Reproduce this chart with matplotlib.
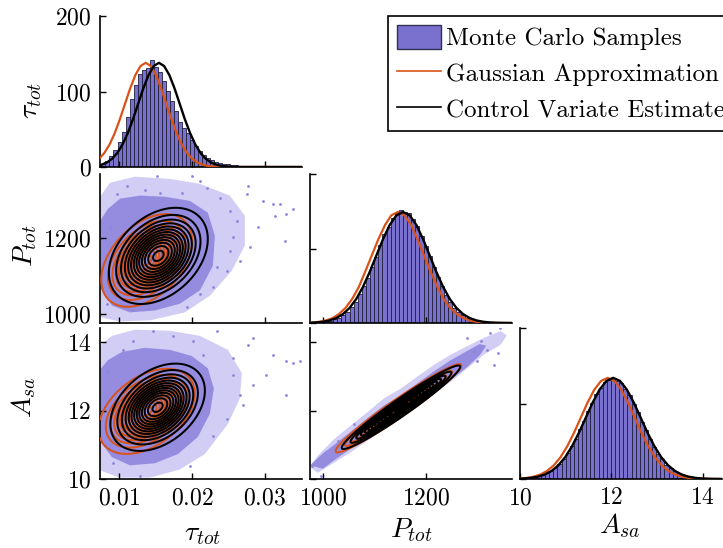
import numpy as np
import matplotlib
matplotlib.use('Agg')
import matplotlib.pyplot as plt
from matplotlib.patches import Patch
from matplotlib.lines import Line2D

plt.rcParams['mathtext.fontset'] = 'cm'
plt.rcParams['font.family'] = ['cmr10', 'DejaVu Serif']
plt.rcParams['axes.unicode_minus'] = False
plt.rcParams['axes.formatter.use_mathtext'] = True

# ---------------- data ----------------
tau_lim = (0.0074, 0.0351)
P_lim = (975, 1368)
A_lim = (10.0, 14.42)
tau_ticks = [0.01, 0.02, 0.03]
P_ticks = [1000, 1200]
A_ticks = [10, 12, 14]
tau_tick_labels = ['0.01', '0.02', '0.03']
P_tick_labels = ['1000', '1200']
A_tick_labels = ['10', '12', '14']
tau_hist_yticks = [0, 100, 200]

# histograms: bin start, bin width, heights
tau_bin_start, tau_bin_width = 0.0076, 0.00055
tau_hist = [4, 8, 14, 22, 33, 47, 66, 90, 108, 123, 128, 131, 142, 133, 126, 114, 101, 87,
            74, 59, 52, 45, 36, 28, 21, 16, 12, 9, 7, 5.5, 4.5, 3.5, 2.8, 2.2, 1.8, 1.5, 1.2,
            1.0, 0.8, 0.7, 0.6, 0.5, 0.4, 0.35, 0.3, 0.25, 0.2, 0.2, 0.15, 0.1]
P_bin_start, P_bin_width = 980, 8
P_hist = [0.2, 0.4, 0.7, 1.1, 1.7, 2.6, 3.9, 5.8, 8.0, 11.5, 15.0, 20.5, 26.5, 32.0, 40.0,
          47.0, 55.5, 63.0, 68.5, 74.5, 78.0, 80.5, 79.0, 78.0, 74.0, 69.0, 62.0, 55.0, 47.5,
          40.0, 32.5, 26.0, 20.0, 15.0, 11.0, 8.0, 5.5, 3.8, 2.5, 1.6, 1.0, 0.6, 0.35, 0.2, 0.1]
P_hist_ylim = 106
A_bin_start, A_bin_width = 10.1, 0.09
A_hist = [0.005, 0.008, 0.012, 0.018, 0.026, 0.038, 0.054, 0.075, 0.100, 0.135, 0.172, 0.220,
          0.268, 0.328, 0.385, 0.448, 0.503, 0.560, 0.600, 0.640, 0.655, 0.668, 0.652, 0.638,
          0.596, 0.556, 0.497, 0.444, 0.378, 0.323, 0.262, 0.215, 0.166, 0.131, 0.096, 0.073,
          0.051, 0.037, 0.025, 0.017, 0.011, 0.007, 0.004]
A_hist_ylim = 1.0

# 1-D curves
tau_gauss_x = [0.00234, 0.00305, 0.00376, 0.00446, 0.00517, 0.00588, 0.00659, 0.00729, 0.00800,
               0.00871, 0.00942, 0.01012, 0.01083, 0.01154, 0.01225, 0.01295, 0.01366, 0.01437,
               0.01508, 0.01578, 0.01649, 0.01720, 0.01791, 0.01861, 0.01932, 0.02003, 0.02074,
               0.02144, 0.02215, 0.02286, 0.02357, 0.02427, 0.02498, 0.0360]
tau_cv_x = [0.00550, 0.00622, 0.00693, 0.00764, 0.00836, 0.00907, 0.00978, 0.01049, 0.01121,
            0.01192, 0.01263, 0.01334, 0.01406, 0.01477, 0.01548, 0.01619, 0.01691, 0.01762,
            0.01833, 0.01904, 0.01976, 0.02047, 0.02118, 0.02189, 0.02261, 0.02332, 0.02403,
            0.02474, 0.02546, 0.02617, 0.02688, 0.0360]
tau_gauss_y = [0.04, 0.12, 0.30, 0.70, 1.53, 3.15, 6.06, 10.98, 18.67, 29.85, 44.81, 63.18,
               83.70, 104.16, 121.79, 133.72, 138, 133.72, 121.79, 104.16, 83.70, 63.18, 44.81,
               29.85, 18.67, 10.98, 6.06, 3.15, 1.53, 0.70, 0.30, 0.12, 0.04, 0]
tau_cv_y = [0.30, 0.70, 1.53, 3.15, 6.06, 10.98, 18.67, 29.85, 44.81, 63.18, 83.70, 104.16,
            121.79, 133.72, 138, 133.72, 121.79, 104.16, 83.70, 63.18, 44.81, 29.85, 18.67,
            10.98, 6.06, 3.15, 1.53, 0.70, 0.30, 0.12, 0.04, 0]

P_gauss_x = [942, 955, 968, 980, 993, 1006, 1019, 1031, 1044, 1057, 1070, 1082, 1095, 1108,
             1121, 1133, 1146, 1159, 1172, 1184, 1197, 1210, 1223, 1235, 1248, 1261, 1274,
             1286, 1299, 1312, 1325, 1337, 1350, 1370]
P_cv_x = [948, 961, 974, 987, 1000, 1013, 1026, 1039, 1052, 1065, 1078, 1091, 1104, 1117, 1130,
          1143, 1156, 1169, 1182, 1195, 1208, 1221, 1234, 1247, 1260, 1273, 1286, 1299, 1312,
          1325, 1338, 1351, 1364, 1370]
P_curve_y = [0.02, 0.07, 0.17, 0.40, 0.88, 1.80, 3.47, 6.29, 10.69, 17.09, 25.65, 36.17, 47.91,
             59.63, 69.72, 76.55, 79.0, 76.55, 69.72, 59.63, 47.91, 36.17, 25.65, 17.09, 10.69,
             6.29, 3.47, 1.80, 0.88, 0.40, 0.17, 0.07, 0.02, 0]

A_gauss_x = [9.560, 9.708, 9.855, 10.003, 10.150, 10.298, 10.445, 10.593, 10.740, 10.888,
             11.035, 11.183, 11.330, 11.478, 11.625, 11.773, 11.920, 12.068, 12.215, 12.363,
             12.510, 12.658, 12.805, 12.953, 13.100, 13.248, 13.395, 13.543, 13.690, 13.838,
             13.985, 14.133, 14.280, 14.50]
A_cv_x = [9.64, 9.79, 9.94, 10.09, 10.24, 10.39, 10.54, 10.69, 10.84, 10.99, 11.14, 11.29,
          11.44, 11.59, 11.74, 11.89, 12.04, 12.19, 12.34, 12.49, 12.64, 12.79, 12.94, 13.09,
          13.24, 13.39, 13.54, 13.69, 13.84, 13.99, 14.14, 14.29, 14.44, 14.50]
A_curve_y = [0.0002, 0.0006, 0.0015, 0.0034, 0.0074, 0.0153, 0.0294, 0.0533, 0.0907, 0.1449,
             0.2175, 0.3067, 0.4064, 0.5057, 0.5913, 0.6492, 0.67, 0.6492, 0.5913, 0.5057,
             0.4064, 0.3067, 0.2175, 0.1449, 0.0907, 0.0533, 0.0294, 0.0153, 0.0074, 0.0034,
             0.0015, 0.0006, 0.0002, 0]

# 2-D Gaussian contour parameters: mean_x, mean_y, sd_x, sd_y, rho
tauP_cv = (0.0154, 1152, 0.00294, 55, 0.35)
tauP_gauss = (0.0138, 1140, 0.0027, 53, 0.42)
tauA_cv = (0.0153, 12.10, 0.00281, 0.554, 0.38)
tauA_gauss = (0.0138, 11.98, 0.00285, 0.54, 0.42)
PA_cv = (1152, 12.10, 50, 0.53, 0.97)
PA_gauss = (1147, 12.07, 53, 0.56, 0.97)
contour_levels = [0.07, 0.145, 0.22, 0.295, 0.37, 0.445, 0.52, 0.595, 0.67, 0.745, 0.82, 0.895, 0.97]

# Monte Carlo sample cloud outlines (dense core, sparse halo) and outlying samples
tauP_dense_tau = [0.0070, 0.00849, 0.01014, 0.01288, 0.01630, 0.01973, 0.02219, 0.02315, 0.02288,
                  0.02110, 0.01836, 0.01493, 0.01151, 0.00904, 0.0072, 0.0070]
tauP_dense_P = [1232, 1276, 1303, 1311, 1308, 1297, 1266, 1205, 1126, 1061, 1026, 1008, 1003,
                1021, 1074, 1153]
tauP_halo_tau = [0.0070, 0.00877, 0.01219, 0.01699, 0.02110, 0.02521, 0.02726, 0.02726, 0.02548,
                 0.02247, 0.01904, 0.01425, 0.01014, 0.0070]
tauP_halo_P = [1297, 1345, 1361, 1355, 1342, 1311, 1258, 1179, 1113, 1047, 1003, 982, 979, 992]
tauP_out_tau = [0.01516, 0.01996, 0.01356, 0.01562, 0.01859, 0.02771, 0.02749, 0.03114, 0.03206,
                0.03297, 0.03137, 0.03388, 0.03274, 0.02908, 0.02566, 0.02521, 0.02658, 0.02338,
                0.02795, 0.02977, 0.02201, 0.02384, 0.02110, 0.00969, 0.01105, 0.00877, 0.00831,
                0.01196, 0.02110, 0.02292, 0.02475, 0.01927, 0.02612, 0.02521]
tauP_out_P = [1363, 1362, 1326, 1319, 1319, 1337, 1315, 1289, 1289, 1262, 1258, 1276, 1192, 1227,
              1201, 1166, 1139, 1122, 1175, 1297, 1332, 1306, 1350, 1315, 1337, 1227, 1026, 1008,
              1052, 1069, 1113, 1017, 1245, 1271]

tauA_dense_tau = [0.0070, 0.00849, 0.01041, 0.01356, 0.01699, 0.02000, 0.02219, 0.02301, 0.02247,
                  0.02082, 0.01808, 0.01493, 0.01151, 0.00904, 0.0072, 0.0070]
tauA_dense_A = [13.10, 13.48, 13.72, 13.84, 13.78, 13.60, 13.24, 12.65, 11.91, 11.23, 10.73,
                10.46, 10.40, 10.64, 11.17, 12.06]
tauA_halo_tau = [0.0070, 0.00904, 0.01219, 0.01699, 0.02110, 0.02493, 0.02685, 0.02658, 0.02493,
                 0.02178, 0.01836, 0.01425, 0.01014, 0.0070]
tauA_halo_A = [13.84, 14.19, 14.37, 14.34, 14.19, 13.78, 13.10, 12.36, 11.61, 10.73, 10.28,
               10.04, 10.04, 10.28]
tauA_out_tau = [0.01470, 0.01744, 0.02338, 0.02018, 0.02771, 0.02840, 0.03114, 0.03297, 0.03388,
                0.03480, 0.03023, 0.02840, 0.02566, 0.03297, 0.02703, 0.02475, 0.02292, 0.01973,
                0.00831, 0.01059, 0.01196, 0.00922, 0.01288, 0.02155, 0.02566, 0.02658]
tauA_out_A = [14.33, 14.18, 14.33, 14.04, 13.93, 14.13, 13.64, 13.44, 13.39, 13.44, 13.05, 12.75,
              13.05, 12.45, 12.16, 11.76, 11.27, 10.38, 13.15, 13.79, 14.04, 10.48, 10.08, 13.64,
              13.54, 12.45]

PA_dense_P = [975, 1000, 1022, 1054, 1087, 1119, 1152, 1184, 1216, 1249, 1281, 1305, 1318,
              1305, 1281, 1249, 1216, 1184, 1152, 1119, 1087, 1054, 1022, 1000]
PA_dense_A = [10.40, 10.75, 11.00, 11.38, 11.78, 12.15, 12.45, 12.80, 13.15, 13.48, 13.75, 13.95,
              13.90, 13.62, 13.28, 12.90, 12.55, 12.20, 11.85, 11.55, 11.22, 10.88, 10.55, 10.30]
PA_halo_P = [975, 990, 1022, 1054, 1087, 1119, 1152, 1184, 1216, 1249, 1281, 1313, 1346, 1358,
             1346, 1313, 1281, 1249, 1216, 1184, 1152, 1119, 1087, 1054, 1022, 990]
PA_halo_A = [10.35, 10.68, 11.17, 11.56, 11.96, 12.36, 12.65, 13.00, 13.34, 13.64, 13.89, 14.13,
             14.33, 14.20, 13.93, 13.64, 13.24, 12.85, 12.50, 12.16, 11.76, 11.47, 11.12, 10.78,
             10.48, 10.18]
PA_out_P = [1326, 1345, 1307, 1294, 1320, 978, 996, 1015, 1333, 1281, 1340, 1300, 1060, 1030]
PA_out_A = [14.28, 14.43, 14.04, 13.74, 13.79, 10.38, 10.08, 10.58, 13.34, 14.13, 13.70, 13.45,
            11.60, 11.10]

legend_labels = ['Monte Carlo Samples', 'Gaussian Approximation', 'Control Variate Estimate']
axis_labels = [r'$\tau_{tot}$', r'$P_{tot}$', r'$A_{sa}$']

# ---------------- styles ----------------
BAR_FACE = '#7a71cf'
BAR_EDGE = '#20203c'
DENSE = '#958ce0'
HALO = '#d2cdf5'
DOT = '#8d84dc'
ORANGE = '#d95319'
TICK_FS = 17
LABEL_FS = 20
CLW = 1.45

W, H = 723, 548
fig = plt.figure(figsize=(W / 100, H / 100), dpi=100)

col_left = [100, 310, 520]
col_w = 202
row_top = [16, 174, 328]
row_h = [151, 149, 151]


def ax_at(r, c):
    l = col_left[c] / W
    b = 1 - (row_top[r] + row_h[r]) / H
    ax = fig.add_axes([l, b, col_w / W, row_h[r] / H])
    for s in ['top', 'right']:
        ax.spines[s].set_visible(False)
    for s in ['left', 'bottom']:
        ax.spines[s].set_linewidth(1.2)
    ax.tick_params(direction='in', length=4, width=1.0, labelsize=TICK_FS, pad=6)
    return ax


def set_ticks(ax, axis, ticks, labels, show):
    if axis == 'x':
        ax.set_xticks(ticks)
        ax.set_xticklabels(['$%s$' % t for t in labels] if show else [])
    else:
        ax.set_yticks(ticks)
        ax.set_yticklabels(['$%s$' % t for t in labels] if show else [])


def draw_hist(ax, start, width, heights):
    edges = start + width * np.arange(len(heights))
    ax.bar(edges, heights, width=width, align='edge', facecolor=BAR_FACE,
           edgecolor=BAR_EDGE, linewidth=0.6, zorder=1)


def gauss_contour(ax, params, xlim, ylim, color, lw, z):
    mx, my, sx, sy, rho = params
    X, Y = np.meshgrid(np.linspace(xlim[0], xlim[1], 400), np.linspace(ylim[0], ylim[1], 400))
    u = (X - mx) / sx
    v = (Y - my) / sy
    D = np.exp(-(u * u - 2 * rho * u * v + v * v) / (2 * (1 - rho ** 2)))
    ax.contour(X, Y, D, levels=contour_levels, colors=color, linewidths=lw, zorder=z)


def draw_cloud(ax, halo_x, halo_y, dense_x, dense_y, out_x, out_y):
    ax.fill(halo_x, halo_y, color=HALO, lw=0, zorder=1)
    ax.fill(dense_x, dense_y, color=DENSE, lw=0, zorder=1.5)
    ax.scatter(out_x, out_y, s=4, color=DOT, lw=0, zorder=2)


# ---- diagonal: tau
ax00 = ax_at(0, 0)
draw_hist(ax00, tau_bin_start, tau_bin_width, tau_hist)
ax00.plot(tau_gauss_x, tau_gauss_y, color=ORANGE, lw=1.6, zorder=3)
ax00.plot(tau_cv_x, tau_cv_y, color='k', lw=1.7, zorder=4)
ax00.set_xlim(*tau_lim)
ax00.set_ylim(0, 200)
set_ticks(ax00, 'x', tau_ticks, tau_tick_labels, False)
set_ticks(ax00, 'y', tau_hist_yticks, [str(t) for t in tau_hist_yticks], True)

# ---- diagonal: P
ax11 = ax_at(1, 1)
draw_hist(ax11, P_bin_start, P_bin_width, P_hist)
ax11.plot(P_gauss_x, P_curve_y, color=ORANGE, lw=1.6, zorder=3)
ax11.plot(P_cv_x, P_curve_y, color='k', lw=1.7, zorder=4)
ax11.set_xlim(*P_lim)
ax11.set_ylim(0, P_hist_ylim)
set_ticks(ax11, 'x', P_ticks, P_tick_labels, False)
ax11.set_yticks([0, P_hist_ylim / 2, P_hist_ylim])
ax11.set_yticklabels([])

# ---- diagonal: A
ax22 = ax_at(2, 2)
draw_hist(ax22, A_bin_start, A_bin_width, A_hist)
ax22.plot(A_gauss_x, A_curve_y, color=ORANGE, lw=1.6, zorder=3)
ax22.plot(A_cv_x, A_curve_y, color='k', lw=1.7, zorder=4)
ax22.set_xlim(*A_lim)
ax22.set_ylim(0, A_hist_ylim)
set_ticks(ax22, 'x', A_ticks, A_tick_labels, True)
ax22.set_yticks([0, A_hist_ylim / 2, A_hist_ylim])
ax22.set_yticklabels([])

# ---- tau vs P
ax10 = ax_at(1, 0)
draw_cloud(ax10, tauP_halo_tau, tauP_halo_P, tauP_dense_tau, tauP_dense_P, tauP_out_tau, tauP_out_P)
gauss_contour(ax10, tauP_gauss, tau_lim, P_lim, ORANGE, CLW, 3)
gauss_contour(ax10, tauP_cv, tau_lim, P_lim, 'k', CLW, 4)
ax10.set_xlim(*tau_lim)
ax10.set_ylim(*P_lim)
set_ticks(ax10, 'x', tau_ticks, tau_tick_labels, False)
set_ticks(ax10, 'y', P_ticks, P_tick_labels, True)

# ---- tau vs A
ax20 = ax_at(2, 0)
draw_cloud(ax20, tauA_halo_tau, tauA_halo_A, tauA_dense_tau, tauA_dense_A, tauA_out_tau, tauA_out_A)
gauss_contour(ax20, tauA_gauss, tau_lim, A_lim, ORANGE, CLW, 3)
gauss_contour(ax20, tauA_cv, tau_lim, A_lim, 'k', CLW, 4)
ax20.set_xlim(*tau_lim)
ax20.set_ylim(*A_lim)
set_ticks(ax20, 'x', tau_ticks, tau_tick_labels, True)
set_ticks(ax20, 'y', A_ticks, A_tick_labels, True)

# ---- P vs A
ax21 = ax_at(2, 1)
draw_cloud(ax21, PA_halo_P, PA_halo_A, PA_dense_P, PA_dense_A, PA_out_P, PA_out_A)
gauss_contour(ax21, PA_gauss, P_lim, A_lim, ORANGE, CLW, 3)
gauss_contour(ax21, PA_cv, P_lim, A_lim, 'k', CLW, 4)
ax21.set_xlim(*P_lim)
ax21.set_ylim(*A_lim)
set_ticks(ax21, 'x', P_ticks, P_tick_labels, True)
set_ticks(ax21, 'y', A_ticks, A_tick_labels, False)

# ---- axis labels
fig.text(31 / W, 1 - 101 / H, axis_labels[0], rotation=90, ha='center', va='center', fontsize=LABEL_FS)
fig.text(25 / W, 1 - 246 / H, axis_labels[1], rotation=90, ha='center', va='center', fontsize=LABEL_FS)
fig.text(24 / W, 1 - 397 / H, axis_labels[2], rotation=90, ha='center', va='center', fontsize=LABEL_FS)
fig.text(202 / W, 1 - 534 / H, axis_labels[0], ha='center', va='center', fontsize=LABEL_FS)
fig.text(411 / W, 1 - 530 / H, axis_labels[1], ha='center', va='center', fontsize=LABEL_FS)
fig.text(620 / W, 1 - 526 / H, axis_labels[2], ha='center', va='center', fontsize=LABEL_FS)

# ---- legend
handles = [Patch(facecolor=BAR_FACE, edgecolor='#303050', linewidth=1.0),
           Line2D([], [], color=ORANGE, lw=1.2),
           Line2D([], [], color='k', lw=1.2)]
leg = fig.legend(handles, legend_labels, loc='upper left', bbox_to_anchor=(388 / W, 1 - 16 / H),
                 fontsize=18, frameon=True, fancybox=False, edgecolor='k', framealpha=1,
                 borderpad=0.35, labelspacing=0.42, handlelength=1.75, handleheight=1.1,
                 handletextpad=0.2, borderaxespad=0)
leg.get_frame().set_linewidth(1.2)

fig.savefig('out.png', dpi=100)
